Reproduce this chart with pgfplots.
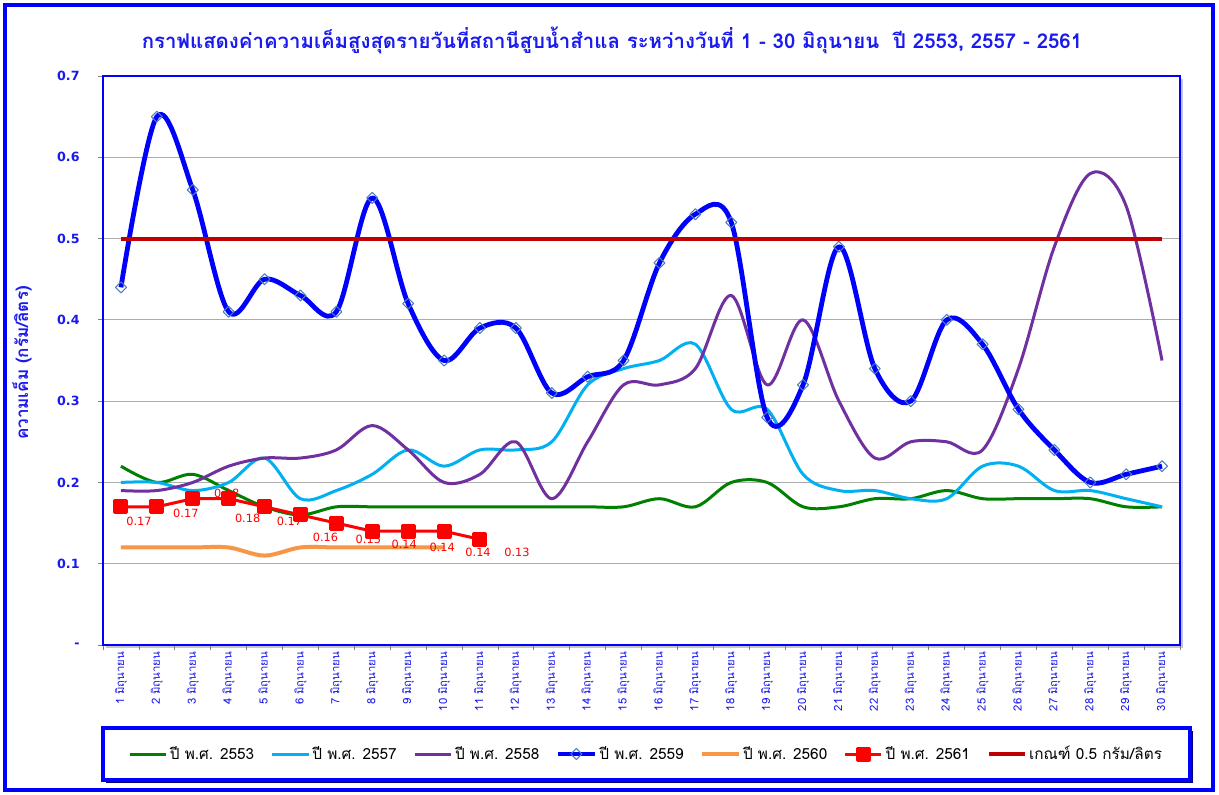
\documentclass[border=0pt]{standalone}
\usepackage{fontspec}
\setmainfont{DejaVu Sans}
\newfontfamily\thaifont[Script=Thai]{Loma}
\usepackage{pgfplots}
\pgfplotsset{compat=1.18}
\usepackage{pgfplotstable}
\definecolor{c53}{HTML}{008000}
\definecolor{c57}{HTML}{00B0F0}
\definecolor{c58}{HTML}{7030A0}
\definecolor{c59}{HTML}{0000FF}
\definecolor{c60}{HTML}{F79646}
\definecolor{c61}{HTML}{FF0000}
\definecolor{cth}{HTML}{C00000}
\definecolor{mk}{HTML}{4A7EBB}
\definecolor{frameblue}{HTML}{0000FF}
\definecolor{txtblue}{HTML}{1A1AF0}
\definecolor{navy}{HTML}{000080}

\pgfplotstableread{
day y53 y57 y58 y59
1 0.22 0.20 0.19 0.44
2 0.20 0.20 0.19 0.65
3 0.21 0.19 0.20 0.56
4 0.19 0.20 0.22 0.41
5 0.17 0.23 0.23 0.45
6 0.16 0.18 0.23 0.43
7 0.17 0.19 0.24 0.41
8 0.17 0.21 0.27 0.55
9 0.17 0.24 0.24 0.42
10 0.17 0.22 0.20 0.35
11 0.17 0.24 0.21 0.39
12 0.17 0.24 0.25 0.39
13 0.17 0.25 0.18 0.31
14 0.17 0.32 0.25 0.33
15 0.17 0.34 0.32 0.35
16 0.18 0.35 0.32 0.47
17 0.17 0.37 0.34 0.53
18 0.20 0.29 0.43 0.52
19 0.20 0.29 0.32 0.28
20 0.17 0.21 0.40 0.32
21 0.17 0.19 0.30 0.49
22 0.18 0.19 0.23 0.34
23 0.18 0.18 0.25 0.30
24 0.19 0.18 0.25 0.40
25 0.18 0.22 0.24 0.37
26 0.18 0.22 0.34 0.29
27 0.18 0.19 0.49 0.24
28 0.18 0.19 0.58 0.20
29 0.17 0.18 0.54 0.21
30 0.17 0.17 0.35 0.22
}\dataA

\pgfplotstableread{
day y
1 0.12
2 0.12
3 0.12
4 0.12
5 0.11
6 0.12
7 0.12
8 0.12
9 0.12
10 0.12
}\dataB

\pgfplotstableread{
day y lab dx dy
1 0.17 0.17 13.5 -11.25
2 0.17 0.17 21.75 -5.25
3 0.18 0.18 25.5 3.75
4 0.18 0.18 14.25 -15
5 0.17 0.17 18.75 -11.25
6 0.16 0.16 18.75 -16.5
7 0.15 0.15 24 -12
8 0.14 0.14 24 -9.75
9 0.14 0.14 25.5 -12
10 0.14 0.14 25.5 -15.75
11 0.13 0.13 27.75 -9.75
}\dataC

\pgfplotstableread{
day y
1 0.5
30 0.5
}\dataD

\begin{document}
\begin{tikzpicture}[x=0.75pt,y=0.75pt]
\useasboundingbox (0,0) rectangle (1219,794);
\fill[white] (0,0) rectangle (1219,794);
\draw[frameblue, line width=3pt] (5,4) rectangle (1213,789);
% plot area shadow
\fill[gray!45] (106,146) rectangle (1183,715);
% legend box
\fill[navy] (106,11) rectangle (1193,63);
\filldraw[fill=white, draw=frameblue, line width=3pt] (103,14) rectangle (1190,66);
% title
\node[text=txtblue, font=\thaifont\bfseries\fontsize{15.3}{17}\selectfont] at (612,754)
  {กราฟแสดงค่าความเค็มสูงสุดรายวันที่สถานีสูบน้ำสำแล ระหว่างวันที่ 1 - 30 มิถุนายน\ \ ปี 2553, 2557 - 2561};
% y label
\node[rotate=90, text=txtblue, font=\thaifont\bfseries\fontsize{12.8}{14}\selectfont] at (22,431)
  {ความเค็ม (กรัม/ลิตร)};
\begin{axis}[
  at={(77.25pt,111.75pt)}, anchor=south west, scale only axis,
  width=807.75pt, height=426.75pt,
  xmin=0.5, xmax=30.5, ymin=0, ymax=0.7,
  axis background/.style={fill=white},
  axis line style={draw=frameblue, line width=2pt},
  tick pos=left, tick align=outside,
  major tick length=4pt, minor tick length=4pt,
  tick style={draw=gray, line width=0.6pt},
  xtick={1,...,30},
  xticklabel={\pgfmathtruncatemacro\dd{\tick}\dd\ มิถุนายน},
  major x tick style={draw=none},
  minor xtick={0.5,1.5,...,30.5},
  ytick={0,0.1,0.2,0.3,0.4,0.5,0.6,0.7},
  yticklabels={-,0.1,0.2,0.3,0.4,0.5,0.6,0.7},
  ymajorgrids, grid style={gray!65, line width=0.8pt},
  xticklabel style={rotate=90, anchor=east, text=txtblue, font=\thaifont\fontsize{8.5}{9}\selectfont, inner sep=1pt},
  yticklabel style={text=txtblue, font=\bfseries\fontsize{9.5}{10}\selectfont, xshift=-10pt},
  legend columns=7,
  legend style={at={(0.5046,-0.1916)}, anchor=center, draw=none, fill=none,
    font=\thaifont\fontsize{11.5}{13}\selectfont, inner sep=0pt,
    /tikz/every even column/.append style={column sep=10.5pt}},
  legend image code/.code={\draw[mark repeat=2,mark phase=2,#1] plot coordinates {(0pt,0pt) (13.5pt,0pt) (27pt,0pt)};},
  every axis plot/.append style={line join=round},
]
\addplot[c53, line width=2.25pt, smooth, tension=0.55] table[x=day,y=y53]{\dataA};
\addlegendentry{ปี พ.ศ. 2553}
\addplot[c57, line width=2.25pt, smooth, tension=0.55] table[x=day,y=y57]{\dataA};
\addlegendentry{ปี พ.ศ. 2557}
\addplot[c58, line width=2.25pt, smooth, tension=0.55] table[x=day,y=y58]{\dataA};
\addlegendentry{ปี พ.ศ. 2558}
\addplot[c59, line width=3.6pt, smooth, tension=0.55, mark=square, mark size=2.9pt,
  mark options={draw=mk, fill=none, line width=0.8pt, solid, rotate=45}] table[x=day,y=y59]{\dataA};
\addlegendentry{ปี พ.ศ. 2559}
\addplot[c60, line width=3pt, smooth, tension=0.55] table[x=day,y=y]{\dataB};
\addlegendentry{ปี พ.ศ. 2560}
\addplot[c61, line width=2.25pt, mark=square*, mark size=4.5pt, mark options={solid},
  nodes near coords, point meta=explicit symbolic,
  visualization depends on={\thisrow{dx} \as \dx},
  visualization depends on={\thisrow{dy} \as \dy},
  every node near coord/.append style={anchor=center, xshift=\dx pt, yshift=\dy pt, text=c61, font=\fontsize{8.5}{10}\selectfont}]
  table[x=day,y=y,meta=lab]{\dataC};
\addlegendentry{ปี พ.ศ. 2561}
\addplot[cth, line width=3pt] table[x=day,y=y]{\dataD};
\addlegendentry{เกณฑ์ 0.5 กรัม/ลิตร}
\end{axis}
\end{tikzpicture}
\end{document}
